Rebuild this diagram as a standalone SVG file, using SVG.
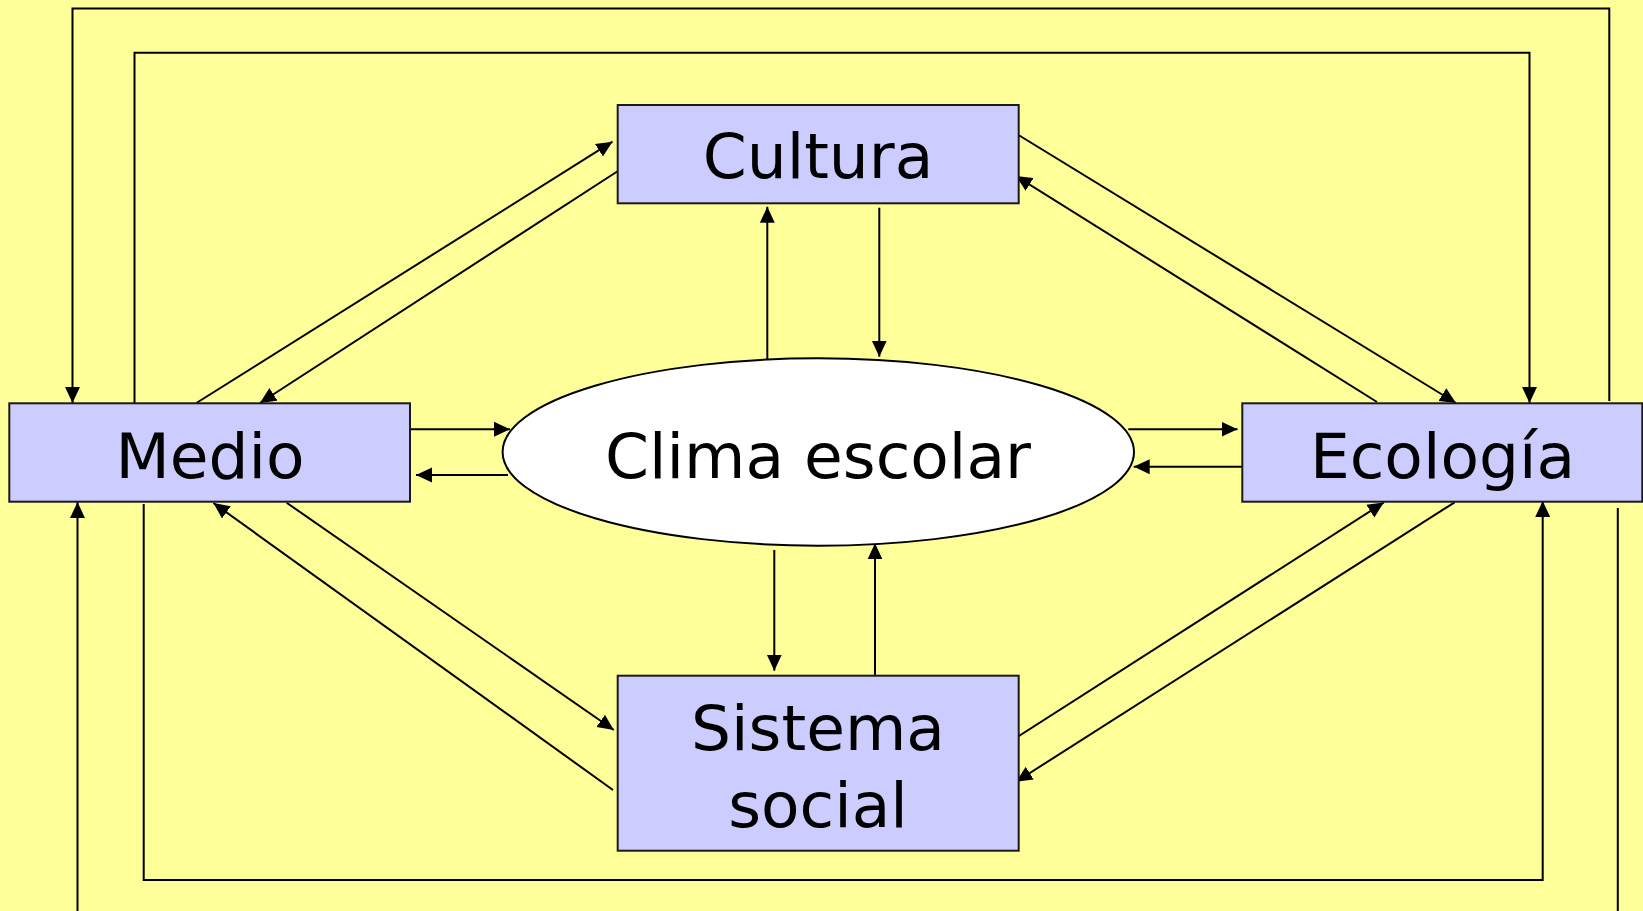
<svg xmlns="http://www.w3.org/2000/svg" width="1643" height="911" viewBox="0 0 1643 911">
<style>
.box{fill:#CCCCFF;stroke:#1a1a1a;stroke-width:2}
.ell{fill:#FFFFFF;stroke:#000;stroke-width:2}
.lbl{font-family:"DejaVu Sans","Liberation Sans",sans-serif;font-size:63px;fill:#000;text-anchor:middle}
.c{fill:none;stroke:#000;stroke-width:2}
.a{marker-end:url(#ah)}
</style>
<defs>
<marker id="ah" markerUnits="userSpaceOnUse" markerWidth="16" markerHeight="16" viewBox="0 0 15 14" refX="15" refY="7" orient="auto">
<path d="M0,0 L15,7 L0,14 Z" fill="#000"/>
</marker>
</defs>
<rect x="0" y="0" width="1643" height="911" fill="#FFFF99"/>
<g id="connectors">
<path class="c a" d="M1609.3,401 V8.5 H72.5 V403"/>
<path class="c a" d="M134.5,403 V52.7 H1529.5 V403"/>
<path class="c a" d="M1617.8,508 V940 H77.5 V502"/>
<path class="c a" d="M143.7,504 V880 H1542.7 V501"/>
<path class="c a" d="M196.4,403 L612.5,141.7"/>
<path class="c a" d="M618,171 L260,403"/>
<path class="c a" d="M1018.5,135 L1456,403"/>
<path class="c a" d="M1377,402 L1016,176"/>
<path class="c a" d="M410,429.3 L510,429.3"/>
<path class="c a" d="M508,475 L416,475"/>
<path class="c a" d="M1128.3,429.3 L1237.5,429.3"/>
<path class="c a" d="M1242.6,466.7 L1133.7,466.7"/>
<path class="c a" d="M767.3,361.7 L767.3,206.7"/>
<path class="c a" d="M879.3,207.7 L879.3,356.7"/>
<path class="c a" d="M774.3,550 L774.3,670.7"/>
<path class="c a" d="M875,675.7 L875,543.3"/>
<path class="c a" d="M286.6,502.7 L613.8,730"/>
<path class="c a" d="M613,790 L213.4,503"/>
<path class="c a" d="M1015.3,738.3 L1383.8,502.5"/>
<path class="c a" d="M1454.6,502.3 L1016.2,781.7"/>
</g>
<g id="clima">
<ellipse class="ell" cx="818.3" cy="452" rx="315.7" ry="93.7"/>
<text class="lbl" x="818" y="477.7">Clima escolar</text>
</g>
<g id="cultura">
<rect class="box" x="617.7" y="105" width="401" height="98.3"/>
<text class="lbl" x="818" y="178.3">Cultura</text>
</g>
<g id="medio">
<rect class="box" x="9.3" y="403.3" width="400.7" height="98.4"/>
<text class="lbl" x="210" y="478.3">Medio</text>
</g>
<g id="ecologia">
<rect class="box" x="1242.3" y="403.3" width="400" height="98.4"/>
<text class="lbl" x="1442.5" y="478.3">Ecología</text>
</g>
<g id="sistema">
<rect class="box" x="617.7" y="675.7" width="401" height="175"/>
<text class="lbl" x="818" y="750">Sistema</text>
<text class="lbl" x="818" y="826.7">social</text>
</g>
</svg>
